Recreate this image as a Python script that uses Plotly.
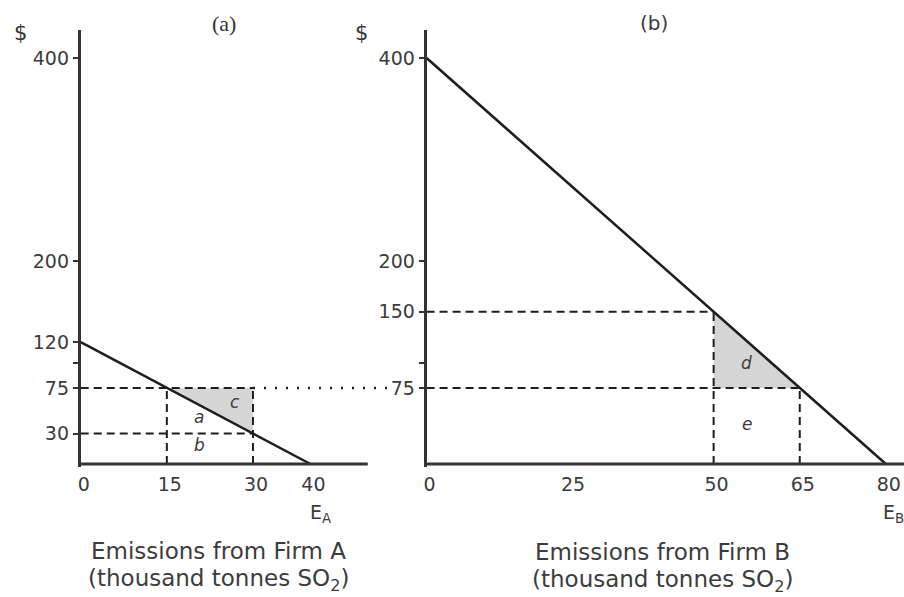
import plotly.graph_objects as go

W, H = 904, 597

# ---------------- data ----------------
# Firm A marginal abatement cost line: $120 at 0 emissions, 0 at 40
mac_a_x = [0, 40]
mac_a_y = [120, 0]
# Firm B marginal abatement cost line: $400 at 0 emissions, 0 at 80
mac_b_x = [0, 80]
mac_b_y = [400, 0]

permit_price = 75
a_emissions = [15, 30]      # Firm A emissions at $75 and at $30
a_prices = [75, 30]
b_emissions = [50, 65]      # Firm B emissions at $150 and at $75
b_prices = [150, 75]

a_xticks = [0, 15, 30, 40]
b_xticks = [0, 25, 50, 65, 80]
a_yticks = [30, 75, 120, 200, 400]
b_yticks = [75, 150, 200, 400]
minor_yticks = [100]

a_axis_end = 50

region_a = ["a", "b", "c"]
region_a_x = [20.6, 20.6, 26.8]
region_a_y = [46, 19, 61]
region_b = ["d", "e"]
region_b_x = [55.8, 55.8]
region_b_y = [100, 39.5]

# ---------------- geometry ----------------
PXX = 5.76       # px per x unit
PXY = 1.015      # px per y unit
Y0 = 464         # pixel row of y = 0
YTOP = 30
YPAD = 3
A_X0, A_XEND = 78, 387
B_X0, B_XEND = 425, 904

y_range = [-YPAD, (Y0 - YTOP) / PXY]
y_domain = [1 - (Y0 + YPAD * PXY) / H, 1 - YTOP / H]
a_range = [0, (A_XEND - A_X0) / PXX]
b_range = [0, (B_XEND - B_X0) / PXX]

INK = "#1e1e1e"
TXT = "#3c3c3c"
SHADE = "#d5d5d5"
FONT = "DejaVu Sans"
DASH = "8px,5px"

fig = go.Figure()


def seg(x, y, xa, ya, dash=DASH, width=2, color=INK):
    fig.add_trace(go.Scatter(x=x, y=y, xaxis=xa, yaxis=ya, mode="lines",
                             line=dict(color=color, width=width, dash=dash),
                             hoverinfo="skip", showlegend=False))


# ---- Panel A ----
ea1, ea2 = a_emissions
pa1, pa2 = a_prices
fig.add_trace(go.Scatter(x=[ea1, ea2, ea2, ea1], y=[pa1, pa1, pa2, pa1],
                         xaxis="x", yaxis="y", mode="lines", fill="toself",
                         fillcolor=SHADE, line=dict(width=0),
                         hoverinfo="skip", showlegend=False))
seg([0, ea2], [pa1, pa1], "x", "y")
seg([0, ea2], [pa2, pa2], "x", "y")
seg([ea1, ea1], [0, pa1], "x", "y")
seg([ea2, ea2], [0, pa1], "x", "y")
seg([ea2, a_range[1]], [permit_price, permit_price], "x", "y",
    dash="2px,9px", width=2.5)
seg(mac_a_x, mac_a_y, "x", "y", dash="solid", width=2.5)
seg([0, a_axis_end], [0, 0], "x", "y", dash="solid", width=2.8, color="#333")

# ---- Panel B ----
eb1, eb2 = b_emissions
pb1, pb2 = b_prices
fig.add_trace(go.Scatter(x=[eb1, eb1, eb2, eb1], y=[pb1, pb2, pb2, pb1],
                         xaxis="x2", yaxis="y2", mode="lines", fill="toself",
                         fillcolor=SHADE, line=dict(width=0),
                         hoverinfo="skip", showlegend=False))
seg([0, eb1], [pb1, pb1], "x2", "y2")
seg([0, eb2], [pb2, pb2], "x2", "y2")
seg([eb1, eb1], [0, pb1], "x2", "y2")
seg([eb2, eb2], [0, pb2], "x2", "y2")
seg(mac_b_x, mac_b_y, "x2", "y2", dash="solid", width=2.5)
seg([0, b_range[1]], [0, 0], "x2", "y2", dash="solid", width=2.8, color="#333")

# region letters
for t, x, y in zip(region_a, region_a_x, region_a_y):
    fig.add_annotation(x=x, y=y, xref="x", yref="y", text=f"<i>{t}</i>",
                       showarrow=False, font=dict(family=FONT, size=17, color=TXT))
for t, x, y in zip(region_b, region_b_x, region_b_y):
    fig.add_annotation(x=x, y=y, xref="x2", yref="y2", text=f"<i>{t}</i>",
                       showarrow=False, font=dict(family=FONT, size=17, color=TXT))


def pann(text, px, py, size, family=FONT, xanchor="center", color=TXT):
    fig.add_annotation(x=px / W, y=1 - py / H, xref="paper", yref="paper",
                       text=text, showarrow=False, xanchor=xanchor,
                       yanchor="middle",
                       font=dict(family=family, size=size, color=color))


pann("(a)", 222, 23, 22, family="Liberation Serif", color="#333")
pann("(b)", 653, 23, 20)
pann("$", 18, 33, 21, color="#333")
pann("$", 360, 33, 21, color="#333")
pann("E<sub>A</sub>", 306, 513, 19, xanchor="left")
pann("E<sub>B</sub>", 881, 513, 19, xanchor="left")
pann("Emissions from Firm A", 216, 551, 23)
pann("(thousand tonnes SO<sub>2</sub>)", 216, 580, 23)
pann("Emissions from Firm B", 662, 552, 23)
pann("(thousand tonnes SO<sub>2</sub>)", 662, 581, 23)

tickfont = dict(family=FONT, size=19, color=TXT)
xcommon = dict(showgrid=False, zeroline=False, showline=False, ticks="",
               tickfont=tickfont, fixedrange=True, ticklabelshift=3,
               ticklabelstandoff=4)
ycommon = dict(showgrid=False, zeroline=False, showline=True, linecolor="#333",
               linewidth=2.8, ticks="outside", ticklen=5, tickwidth=1.5,
               tickcolor="#333", tickfont=tickfont, range=y_range,
               domain=y_domain, fixedrange=True,
               minor=dict(tickvals=minor_yticks, ticks="outside", ticklen=5,
                          tickwidth=1.5, tickcolor="#333", showgrid=False))

fig.update_layout(
    width=W, height=H,
    margin=dict(l=0, r=0, t=0, b=0),
    paper_bgcolor="white", plot_bgcolor="white",
    showlegend=False,
    xaxis=dict(**xcommon, range=a_range,
               domain=[A_X0 / W, A_XEND / W],
               tickvals=a_xticks, ticktext=[str(v) for v in a_xticks],
               anchor="y"),
    yaxis=dict(**ycommon, tickvals=a_yticks,
               ticktext=[str(v) for v in a_yticks], anchor="x"),
    xaxis2=dict(**xcommon, range=b_range,
                domain=[B_X0 / W, B_XEND / W],
                tickvals=b_xticks, ticktext=[str(v) for v in b_xticks],
                anchor="y2"),
    yaxis2=dict(**ycommon, tickvals=b_yticks,
                ticktext=[str(v) for v in b_yticks], anchor="x2"),
)

fig.write_html(
    "out.html",
    config={"displayModeBar": False},
    post_script="document.body.style.margin='0';document.body.style.overflow='hidden';",
)
